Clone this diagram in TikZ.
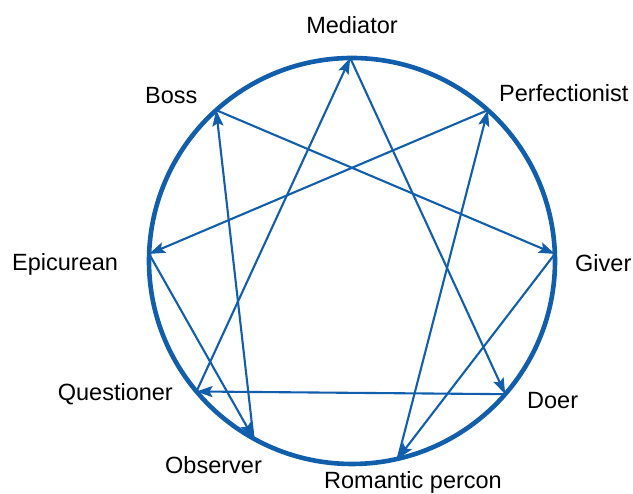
\documentclass[tikz,border=0pt]{standalone}
\usepackage{fontspec}
\setmainfont{Liberation Sans}
\usepackage{xcolor}
\usepackage{tikz}
\usetikzlibrary{arrows.meta, calc, positioning}
\definecolor{myblue}{RGB}{16,94,172}
\tikzstyle{arrow} = [line width=2.1pt, myblue, -{Stealth[length=16pt, width=11pt, inset=3pt]}]
\tikzstyle{ring} = [line width=4.6pt, myblue]

\begin{document}
\begin{tikzpicture}[x=1pt, y=1pt, lbl/.style={font=\fontsize{23.5}{28}\selectfont, inner sep=0pt}]
    \useasboundingbox (0,0) rectangle (633,494);
    \coordinate (o) at (352,233);
    \draw[ring] (o) circle (203pt);
    % the nine points on the ring
    \coordinate (med) at ($(o)+(90.5:203)$);
    \coordinate (per) at ($(o)+(48:203)$);
    \coordinate (giv) at ($(o)+(2:203)$);
    \coordinate (doe) at ($(o)+(-41:203)$);
    \coordinate (rom) at ($(o)+(-77:203)$);
    \coordinate (obs) at ($(o)+(-119:203)$);
    \coordinate (que) at ($(o)+(-140:203)$);
    \coordinate (epi) at ($(o)+(178:203)$);
    \coordinate (bos) at ($(o)+(132:203)$);
    % names
    \node[lbl, anchor=base] (tmed) at (352,460.5) {Mediator};
    \node[lbl, anchor=base west] (tper) at (499,392) {Perfectionist};
    \node[lbl, anchor=base west] (tgiv) at (575,222.5) {Giver};
    \node[lbl, anchor=base west] (tdoe) at (527,85.5) {Doer};
    \node[lbl, anchor=base west] (trom) at (324,5.2) {Romantic percon};
    \node[lbl, anchor=base west] (tobs) at (165,20.5) {Observer};
    \node[lbl, anchor=base east] (tque) at (173,93.5) {Questioner};
    \node[lbl, anchor=base west] (tepi) at (12,223) {Epicurean};
    \node[lbl, anchor=base west] (tbos) at (145,390.5) {Boss};
    % inner triangle
    \draw[arrow] (que) -- (med); \draw[arrow] (med) -- (doe); \draw[arrow] (doe) -- (que);
    % hexad
    \draw[arrow] (bos) -- (giv); \draw[arrow] (giv) -- (rom); \draw[arrow] (rom) -- (per);
    \draw[arrow] (per) -- (epi); \draw[arrow] (epi) -- (obs); \draw[arrow] (obs) -- (bos);
\end{tikzpicture}
\end{document}
